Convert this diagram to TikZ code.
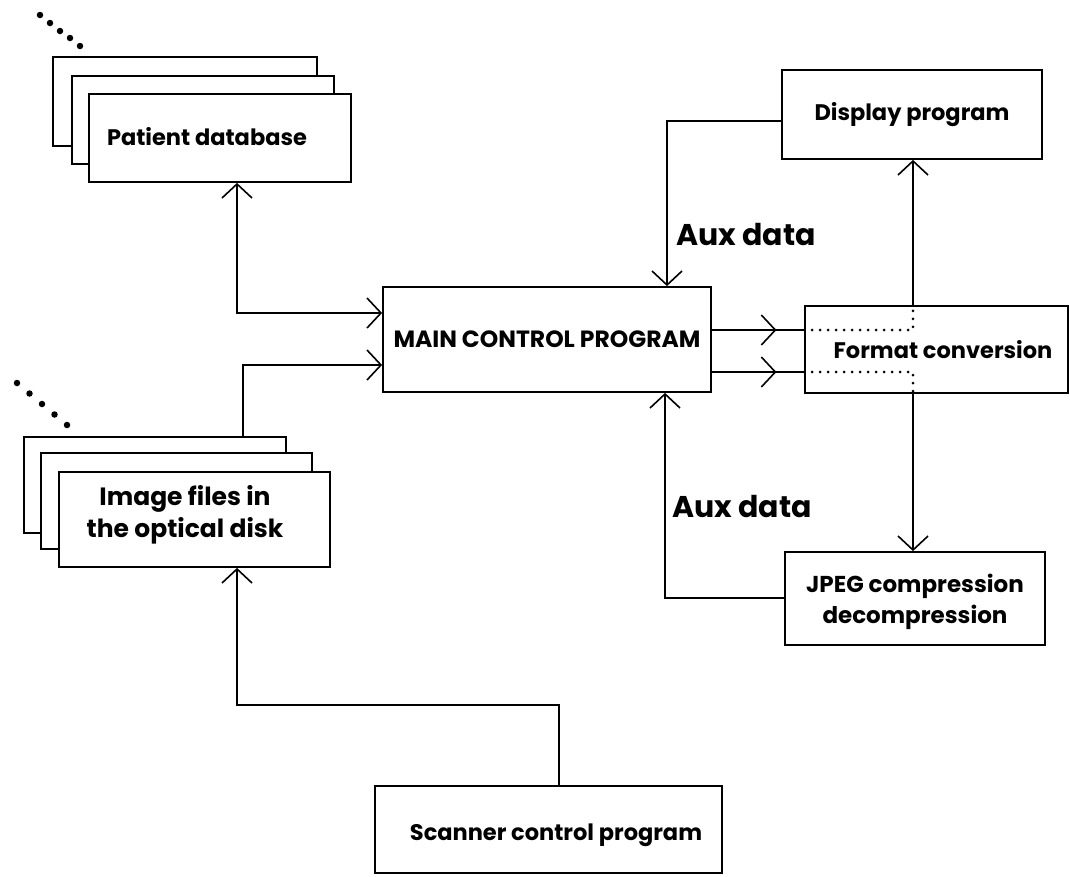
\documentclass[tikz,border=0pt]{standalone}
\usepackage{fontspec}
\setmainfont{Poppins}
\usetikzlibrary{arrows.meta,decorations.markings}
\begin{document}
\begin{tikzpicture}[x=1pt,y=-1pt,
  line width=1.8pt,
  box/.style={draw,fill=white,line width=1.8pt,inner sep=0pt},
  lbl/.style={font=\bfseries\fontsize{22.5}{31}\selectfont,inner sep=0pt,align=center},
  aux/.style={font=\bfseries\fontsize{30}{34}\selectfont,inner sep=0pt},
  conn/.style={line width=1.8pt},
  dotline/.style={line width=3pt,line cap=round,dash pattern=on 0pt off 8pt},
  midarrow/.style={postaction={decorate},decoration={markings,mark=at position 0.70 with {\arrow{Straight Barb[length=14pt,width=30pt,line width=1.6pt]}}}},
  stackdot/.style={circle,fill=black,inner sep=0pt,minimum size=6.5pt}
]
\useasboundingbox (0,0) rectangle (1070,876);

% Patient database stack
\node[box,minimum width=264pt,minimum height=89pt] (pdbA) at (185,101.5) {};
\node[box,minimum width=262pt,minimum height=88pt] (pdbB) at (203,120) {};
\node[box,minimum width=262pt,minimum height=88pt] (pdb) at (220,138) {};
\node[lbl] (pdbT) at (207,137) {Patient database};
\foreach \i/\px/\py in {1/40/15,2/50/23,3/60/31,4/70/38,5/80/46}
  \node[stackdot] (pd\i) at (\px,\py) {};

% Image files stack
\node[box,minimum width=262pt,minimum height=96pt] (imgA) at (155,485) {};
\node[box,minimum width=271pt,minimum height=96pt] (imgB) at (176.5,501) {};
\node[box,minimum width=271pt,minimum height=95pt] (img) at (194.5,519.5) {};
\node[lbl,font=\bfseries\fontsize{25}{32}\selectfont] (imgT) at (185,515) {Image files in\\the optical disk};
\foreach \i/\px/\py in {1/17/383,2/29.5/393.5,3/42/404,4/54.5/414.5,5/67/425}
  \node[stackdot] (id\i) at (\px,\py) {};

% Main
\node[box,minimum width=328pt,minimum height=105pt,font=\bfseries\fontsize{23.5}{28}\selectfont] (main) at (547,339.5) {MAIN CONTROL PROGRAM};

% Display
\node[box,minimum width=260pt,minimum height=89pt] (disp) at (912,114.5) {};
\node[lbl] (dispT) at (912,115) {Display program};

% Format conversion
\node[box,minimum width=263pt,minimum height=87pt] (fmt) at (936.5,349.5) {};
\node[lbl] (fmtT) at (943,350) {Format conversion};

% JPEG
\node[box,minimum width=260pt,minimum height=93pt] (jpeg) at (915,598.5) {};
\node[lbl,font=\bfseries\fontsize{23}{31}\selectfont] (jpegT) at (915,602) {JPEG compression\\decompression};

% Scanner
\node[box,minimum width=347pt,minimum height=87pt] (scan) at (548.5,829.5) {};
\node[lbl] (scanT) at (556,835) {Scanner control program};

% Aux labels
\node[aux] (aux1) at (746,235) {Aux data};
\node[aux] (aux2) at (742,507) {Aux data};

% Coordinates
\coordinate (c1) at (237,313);
\coordinate (c2) at (243,365);
\coordinate (c3a) at (559,705);
\coordinate (c3b) at (237,705);
\coordinate (c4) at (667,121);
\coordinate (c5) at (665,598);
\coordinate (d1) at (913,330);
\coordinate (d2) at (913,372);

% Connectors
\draw[conn,{Straight Barb[length=14pt,width=30pt,line width=1.6pt]}-{Straight Barb[length=14pt,width=30pt,line width=1.6pt]}]
  (pdb.south -| c1) -- (c1) -- (main.west |- c1);
\draw[conn,-{Straight Barb[length=14pt,width=30pt,line width=1.6pt]}]
  (imgA.north -| c2) -- (c2) -- (main.west |- c2);
\draw[conn,-{Straight Barb[length=14pt,width=30pt,line width=1.6pt]}]
  (scan.north -| c3a) -- (c3a) -- (c3b) -- (img.south -| c3b);
\draw[conn,-{Straight Barb[length=14pt,width=30pt,line width=1.6pt]}]
  (disp.west |- c4) -- (c4) -- (main.north -| c4);
\draw[conn,-{Straight Barb[length=14pt,width=30pt,line width=1.6pt]}]
  (jpeg.west |- c5) -- (c5) -- (main.south -| c5);
\draw[conn,midarrow] (main.east |- d1) -- (fmt.west |- d1);
\draw[conn,midarrow] (main.east |- d2) -- (fmt.west |- d2);
\draw[dotline] (fmt.west |- d1) -- (d1) -- (fmt.north -| d1);
\draw[dotline] (fmt.west |- d2) -- (d2) -- (fmt.south -| d2);
\draw[conn,-{Straight Barb[length=14pt,width=30pt,line width=1.6pt]}]
  (fmt.north -| d1) -- (disp.south -| d1);
\draw[conn,-{Straight Barb[length=14pt,width=30pt,line width=1.6pt]}]
  (fmt.south -| d2) -- (jpeg.north -| d2);
\end{tikzpicture}
\end{document}
